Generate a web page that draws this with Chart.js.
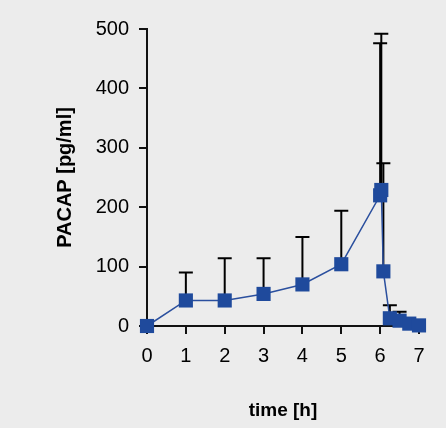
<!DOCTYPE html>
<html>
<head>
<meta charset="utf-8">
<script src="https://cdn.jsdelivr.net/npm/chart.js@4/dist/chart.umd.min.js"></script>
<style>
  html, body { margin: 0; padding: 0; background: #ececec; }
  #wrap { width: 446px; height: 428px; }
</style>
</head>
<body>
<div id="wrap"><canvas id="myChart" width="446" height="428"></canvas></div>
<script>
// time points [h] and PACAP mean values [pg/ml]
var times = [0, 1, 2, 3, 4, 5, 6, 6.03, 6.083, 6.25, 6.5, 6.75, 7]
var pacap = [0, 43, 43, 54, 70, 104, 220, 229, 92, 13, 9, 4, 1]
// upper end of error bar (mean + SD)
var errTop = [null, 90, 114, 114, 150, 194, 476, 492, 274, 35, 24, null, null]
var xTicks = [0, 1, 2, 3, 4, 5, 6, 7]
var yTicks = [0, 100, 200, 300, 400, 500]

var points = times.map(function (t, i) { return { x: t, y: pacap[i] } })

// draw the upward error bars with caps
var errorBars = {
      id: 'errorBars',
      beforeDatasetsDraw: function (chart) {
            var ctx = chart.ctx
            var xs = chart.scales.x
            var ys = chart.scales.y
            ctx.save()
            ctx.strokeStyle = '#000'
            ctx.lineWidth = 2
            times.forEach(function (t, i) {
                  if (errTop[i] == null) return
                  var px = xs.getPixelForValue(t)
                  var p0 = ys.getPixelForValue(pacap[i])
                  var p1 = ys.getPixelForValue(errTop[i])
                  ctx.beginPath()
                  ctx.moveTo(px, p0)
                  ctx.lineTo(px, p1)
                  ctx.moveTo(px - 7, p1)
                  ctx.lineTo(px + 7, p1)
                  ctx.stroke()
            })
            ctx.restore()
      }
}

var bg = {
      id: 'bg',
      beforeDraw: function (chart) {
            var ctx = chart.ctx
            ctx.save()
            ctx.fillStyle = '#ececec'
            ctx.fillRect(0, 0, chart.width, chart.height)
            ctx.restore()
      }
}

var ctx = document.getElementById('myChart')
var myChart = new Chart(ctx, {
      type: 'scatter',
      data: {
            datasets: [{
                  label: 'PACAP',
                  data: points,
                  showLine: true,
                  borderColor: '#2a4f9e',
                  borderWidth: 1.5,
                  pointStyle: 'rect',
                  pointRadius: 10,
                  pointHoverRadius: 10,
                  pointBackgroundColor: '#1f4a9c',
                  pointBorderColor: '#1f4a9c',
                  pointBorderWidth: 0,
                  clip: false
            }]
      },
      plugins: [bg, errorBars],
      options: {
            animation: false,
            responsive: false,
            layout: { padding: { top: 29, right: 27, bottom: 0, left: 0 } },
            plugins: {
                  legend: { display: false },
                  tooltip: { enabled: false }
            },
            scales: {
                  x: {
                        type: 'linear',
                        min: 0,
                        max: 7,
                        afterFit: function (scale) { scale.height = 102 },
                        afterBuildTicks: function (scale) {
                              scale.ticks = xTicks.map(function (v) { return { value: v } })
                        },
                        border: { color: '#111', width: 2 },
                        grid: { drawOnChartArea: false, drawTicks: true, tickLength: 8, color: '#111', lineWidth: 2 },
                        ticks: {
                              padding: 10,
                              color: '#000',
                              font: { family: 'Liberation Sans, Arial', size: 20 }
                        },
                        title: {
                              display: true,
                              text: 'time [h]',
                              color: '#000',
                              font: { family: 'Liberation Sans, Arial', size: 19, weight: 'bold' },
                              padding: { top: 0, bottom: 6 }
                        }
                  },
                  y: {
                        min: 0,
                        max: 500,
                        afterFit: function (scale) { scale.width = 147 },
                        afterBuildTicks: function (scale) {
                              scale.ticks = yTicks.map(function (v) { return { value: v } })
                        },
                        border: { color: '#111', width: 2 },
                        grid: { drawOnChartArea: false, drawTicks: true, tickLength: 8, color: '#111', lineWidth: 2 },
                        ticks: {
                              padding: 10,
                              color: '#000',
                              font: { family: 'Liberation Sans, Arial', size: 20 }
                        },
                        title: {
                              display: true,
                              text: 'PACAP [pg/ml]',
                              color: '#000',
                              font: { family: 'Liberation Sans, Arial', size: 20, weight: 'bold' },
                              padding: { top: 53, bottom: 0 }
                        }
                  }
            }
      }
})
</script>
</body>
</html>
